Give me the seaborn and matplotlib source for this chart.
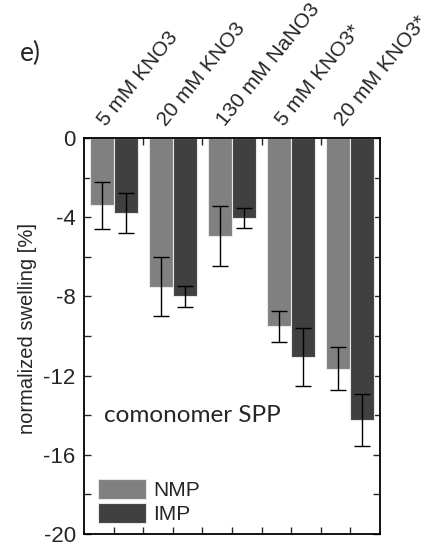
import matplotlib
matplotlib.use("Agg")
import matplotlib.pyplot as plt
from matplotlib.ticker import MultipleLocator, FixedLocator
from matplotlib.transforms import offset_copy
import seaborn as sns
import pandas as pd
import numpy as np

categories = ["5 mM KNO3", "20 mM KNO3", "130 mM NaNO3", "5 mM KNO3*", "20 mM KNO3*"]
nmp_values = [-3.4, -7.5, -4.95, -9.52, -11.65]
imp_values = [-3.8, -8.0, -4.05, -11.05, -14.25]
nmp_err = [1.2, 1.5, 1.5, 0.8, 1.08]
imp_err = [1.0, 0.55, 0.5, 1.46, 1.32]
series = ["NMP", "IMP"]
colors = {"NMP": "#808080", "IMP": "#404040"}

sns.set_style("ticks")
plt.rcParams["font.family"] = ["Liberation Sans", "DejaVu Sans"]

df = pd.DataFrame({
    "cat": categories * 2,
    "series": ["NMP"] * 5 + ["IMP"] * 5,
    "value": nmp_values + imp_values,
    "err": nmp_err + imp_err,
})

fig = plt.figure(figsize=(4.32, 5.44), dpi=100)
ax = fig.add_axes([84 / 432, 10 / 544, 296 / 432, 396 / 544])

sns.barplot(data=df, x="cat", y="value", hue="series", palette=colors,
            order=categories, hue_order=series, width=0.81, errorbar=None,
            edgecolor="#e8e8e8", linewidth=0.8, ax=ax, legend=True)

# error bars at bar centers
for cont, s in zip(ax.containers, series):
    sub = df[df.series == s].set_index("cat").loc[categories]
    xs = [p.get_x() + p.get_width() / 2 for p in cont.patches]
    ys = [p.get_height() for p in cont.patches]
    ax.errorbar(xs, ys, yerr=sub["err"].values, fmt="none", ecolor="black",
                elinewidth=1.0, capsize=6, capthick=1.0, zorder=5)

ax.set_xlim(-0.5, 4.5)
ax.set_ylim(-20, 0)
ax.yaxis.set_minor_locator(MultipleLocator(2))
ax.set_yticks(np.arange(-20, 1, 4))
ax.set_yticklabels([f"{int(v)}" for v in np.arange(-20, 1, 4)])
ax.xaxis.set_minor_locator(FixedLocator([0.5, 1.5, 2.5, 3.5]))

ax.xaxis.tick_top()
ax.tick_params(axis="x", which="both", top=True, bottom=True, direction="in",
               labeltop=True, labelbottom=False, length=5, width=1.0, pad=6,
               labelsize=15)
ax.tick_params(axis="y", which="both", left=True, right=True, direction="in",
               length=5, width=1.0, labelsize=16, pad=6)
for lab in ax.get_xticklabels():
    lab.set_rotation(51)
    lab.set_ha("left")
    lab.set_va("bottom")
    lab.set_rotation_mode("anchor")
    lab.set_transform(offset_copy(lab.get_transform(), fig=fig, x=-4, y=0, units="dots"))
for lab in ax.get_yticklabels():
    lab.set_va("center_baseline")

for sp in ax.spines.values():
    sp.set_visible(True)
    sp.set_linewidth(1.3)
    sp.set_color("black")

ax.set_xlabel("")
ax.set_ylabel("normalized swelling [%]", fontsize=14.5)
ax.yaxis.set_label_coords(-0.158, 0.52)

ax.text(20 / 296, 0.3, "comonomer SPP", transform=ax.transAxes,
        fontsize=17.5, family=["Lato", "DejaVu Sans"], va="center", ha="left")
fig.text(20 / 432, 1 - 53 / 544, "e)", fontsize=19, family=["Lato", "DejaVu Sans"],
         va="center", ha="left")

leg = ax.legend(loc="lower left", bbox_to_anchor=(14 / 296, 10 / 396), frameon=False,
                fontsize=15, handlelength=2.3, handleheight=1.05, labelspacing=0.15,
                handletextpad=0.35, borderpad=0, borderaxespad=0)

fig.savefig("out.png", dpi=100)
